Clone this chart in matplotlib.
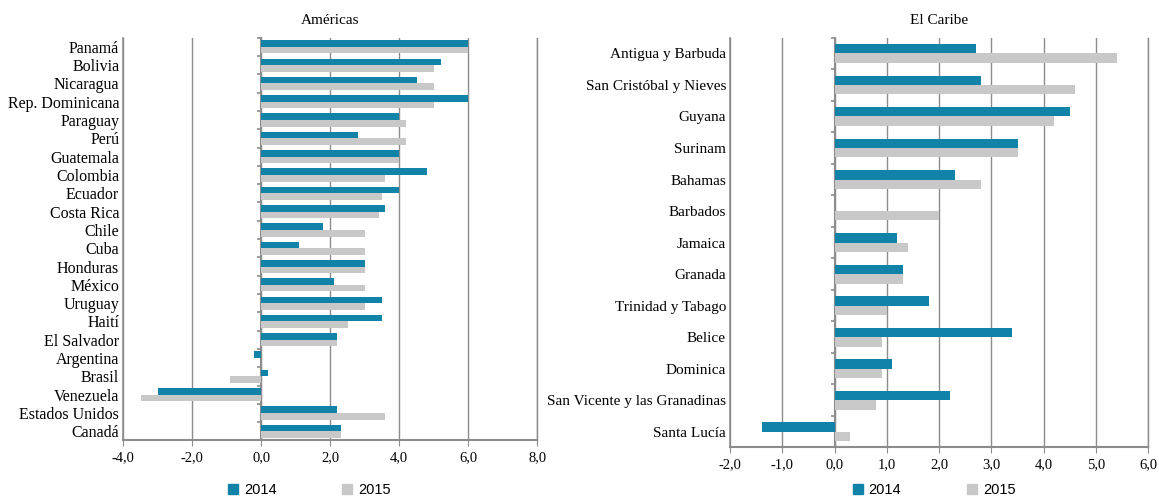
import matplotlib.pyplot as plt
import numpy as np
from matplotlib.patches import Patch

# Datos: crecimiento del PIB (%)
americas = ["Panamá", "Bolivia", "Nicaragua", "Rep. Dominicana", "Paraguay", "Perú",
            "Guatemala", "Colombia", "Ecuador", "Costa Rica", "Chile", "Cuba",
            "Honduras", "México", "Uruguay", "Haití", "El Salvador", "Argentina",
            "Brasil", "Venezuela", "Estados Unidos", "Canadá"]
americas_2014 = [6.0, 5.2, 4.5, 6.0, 4.0, 2.8, 4.0, 4.8, 4.0, 3.6, 1.8, 1.1,
                 3.0, 2.1, 3.5, 3.5, 2.2, -0.2, 0.2, -3.0, 2.2, 2.3]
americas_2015 = [6.0, 5.0, 5.0, 5.0, 4.2, 4.2, 4.0, 3.6, 3.5, 3.4, 3.0, 3.0,
                 3.0, 3.0, 3.0, 2.5, 2.2, 0.0, -0.9, -3.5, 3.6, 2.3]

caribe = ["Antigua y Barbuda", "San Cristóbal y Nieves", "Guyana", "Surinam",
          "Bahamas", "Barbados", "Jamaica", "Granada", "Trinidad y Tabago",
          "Belice", "Dominica", "San Vicente y las Granadinas", "Santa Lucía"]
caribe_2014 = [2.7, 2.8, 4.5, 3.5, 2.3, 0.0, 1.2, 1.3, 1.8, 3.4, 1.1, 2.2, -1.4]
caribe_2015 = [5.4, 4.6, 4.2, 3.5, 2.8, 2.0, 1.4, 1.3, 1.0, 0.9, 0.9, 0.8, 0.3]

C2014 = "#1283a8"
C2015 = "#c8c8c9"
GRID = "#8c8c8c"
SERIF = ["Liberation Serif", "DejaVu Serif"]

plt.rcParams['font.family'] = SERIF


def panel(ax, labels, v14, v15, xlim, step, title, bar_h, lab_size):
    y = np.arange(len(labels))
    ax.barh(y - bar_h / 2, v14, height=bar_h, color=C2014, zorder=3)
    ax.barh(y + bar_h / 2, v15, height=bar_h, color=C2015, zorder=3)
    ax.set_ylim(len(labels) - 0.5, -0.5)
    ax.set_xlim(*xlim)
    ticks = np.arange(xlim[0], xlim[1] + step / 2, step)
    ax.set_xticks(ticks)
    ax.set_xticklabels([f"{t:.1f}".replace(".", ",") for t in ticks], fontsize=10.5)
    ax.set_yticks(y)
    ax.set_yticklabels(labels, fontsize=lab_size)
    ax.tick_params(axis='y', length=0, pad=3)
    ax.tick_params(axis='x', length=4, color=GRID, pad=4)
    ax.grid(axis='x', color=GRID, linewidth=1, zorder=0)
    for s in ["top", "right", "left"]:
        ax.spines[s].set_visible(False)
    # bordes izquierdo y derecho como líneas de cuadrícula completas
    ax.axvline(xlim[0], color=GRID, linewidth=1.2, zorder=1, clip_on=False)
    ax.axvline(xlim[1], color=GRID, linewidth=1.0, zorder=1, clip_on=False)
    ax.spines["bottom"].set_color(GRID)
    ax.spines["bottom"].set_linewidth(1.5)
    ax.set_title(title, fontsize=11, pad=10)

    # eje de categorías en el cero
    frac = (0 - xlim[0]) / (xlim[1] - xlim[0])
    sec = ax.secondary_yaxis(frac)
    sec.set_yticks(np.arange(-0.5, len(labels), 1.0))
    sec.set_yticklabels([])
    sec.tick_params(axis='y', length=3, color=GRID, width=1.2)
    sec.spines["left"].set_color(GRID)
    sec.spines["left"].set_linewidth(1.5)


fig = plt.figure(figsize=(11.59, 4.96), dpi=100)
ax1 = fig.add_axes([0.1065, 0.112, 0.3570, 0.812])
ax2 = fig.add_axes([0.6300, 0.098, 0.3607, 0.826])

panel(ax1, americas, americas_2014, americas_2015, (-4, 8), 2, "Américas", 0.36, 11.5)
panel(ax2, caribe, caribe_2014, caribe_2015, (-2, 6), 1, "El Caribe", 0.3, 11)

handles = [Patch(color=C2014, label="2014"), Patch(color=C2015, label="2015")]
for x in (0.267, 0.806):
    fig.legend(handles=handles, loc="center", bbox_to_anchor=(x, 0.012), ncol=2,
               frameon=False, handlelength=0.7, handleheight=0.7, handletextpad=0.4,
               columnspacing=4.5, prop={"family": "Liberation Sans", "size": 10.5})

fig.savefig("out.png", dpi=100)
